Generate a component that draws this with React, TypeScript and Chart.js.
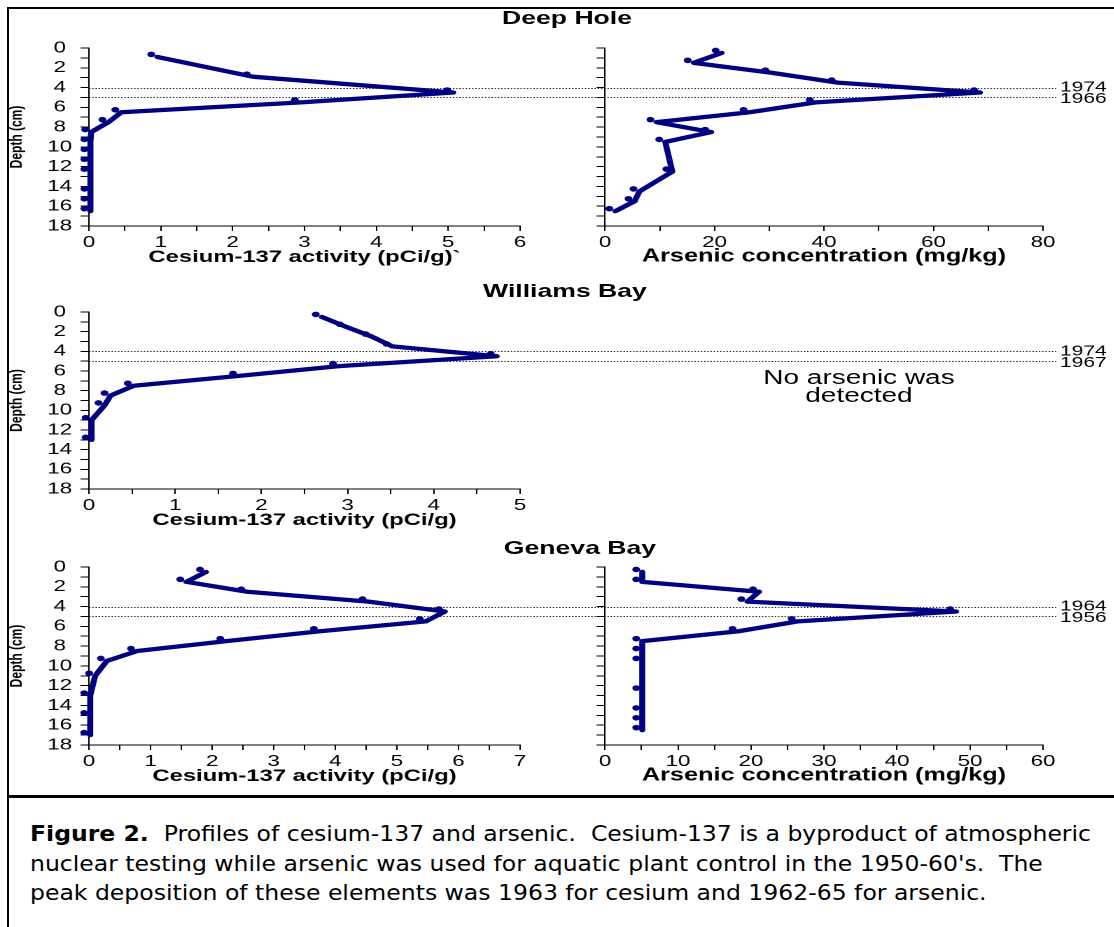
import { useEffect, useRef } from 'react';
import { Chart, registerables } from 'chart.js';

Chart.register(...registerables);

// ---------------- data ----------------
// Deep Hole – cesium-137 (pCi/g) vs depth (cm)
const dhCsDepth = [0.9, 2.9, 4.5, 5.5, 6.5, 7.5, 8.5, 9.5, 10.5, 11.5, 12.5, 14.5, 15.5, 16.5];
const dhCsValue = [0.95, 2.28, 5.07, 2.95, 0.45, 0.27, 0.03, 0.02, 0.02, 0.02, 0.02, 0.02, 0.02, 0.02];
// Deep Hole – arsenic (mg/kg) vs depth (cm)
const dhAsDepth = [0.5, 1.5, 2.5, 3.5, 4.5, 5.5, 6.5, 7.5, 8.5, 9.5, 12.5, 14.5, 15.5, 16.5];
const dhAsValue = [21.3, 16.2, 30.4, 42.5, 68.5, 38.5, 26.4, 9.4, 19.4, 11.0, 12.3, 6.3, 5.4, 1.9];
// Williams Bay – cesium-137
const wbCsDepth = [0.5, 1.5, 2.5, 3.5, 4.5, 5.5, 6.5, 7.5, 8.5, 9.5, 11, 13];
const wbCsValue = [2.7, 2.98, 3.28, 3.52, 4.73, 2.9, 1.74, 0.52, 0.25, 0.18, 0.03, 0.03];
// Geneva Bay – cesium-137
const gbCsDepth = [0.5, 1.5, 2.5, 3.5, 4.5, 5.5, 6.5, 7.5, 8.5, 9.5, 11, 13, 15, 17];
const gbCsValue = [1.9, 1.58, 2.57, 4.54, 5.78, 5.47, 3.75, 2.23, 0.78, 0.29, 0.1, 0.02, 0.02, 0.02];
// Geneva Bay – arsenic
const gbAsDepth = [0.5, 1.5, 2.5, 3.5, 4.5, 5.5, 6.5, 7.5, 8.5, 9.5, 12.5, 14.5, 15.5, 16.5];
const gbAsValue = [5.1, 5.1, 21.1, 19.5, 48.1, 26.4, 18.3, 5.1, 5.1, 5.1, 5.1, 5.1, 5.1, 5.1];

// dated horizons (cm) and their years
const yearDepths = [4, 5];
const dhYears = ['1974', '1966'];
const wbYears = ['1974', '1967'];
const gbYears = ['1964', '1956'];

const rowTitles = ['Deep Hole', 'Williams Bay', 'Geneva Bay'];
const csTitleDH = 'Cesium-137 activity (pCi/g)`';
const csTitle = 'Cesium-137 activity (pCi/g)';
const asTitle = 'Arsenic concentration (mg/kg)';
const depthTitle = 'Depth (cm)';
const noArsenicLines = ['No arsenic was', 'detected'];
const captionBold = 'Figure 2.';
const captionLines = [
  '  Profiles of cesium-137 and arsenic.  Cesium-137 is a byproduct of atmospheric',
  "nuclear testing while arsenic was used for aquatic plant control in the 1950-60's.  The",
  'peak deposition of these elements was 1963 for cesium and 1962-65 for arsenic.',
];

// ---------------- styling / geometry ----------------
const S = 1.4; // horizontal stretch of the original figure
const NAVY = '#000080';
const FONT = "'Liberation Sans', Arial, Helvetica, sans-serif";
const INNER_W = 795;
const L_AREA_R = 520 / S;
const L_AXIS_W = 89 / S;
const R_CANVAS_L = 380;
const R_AREA_L = 605 / S;
const R_AREA_R = 1043 / S;
const PAD_TOP = 40;
const X_AXIS_H = 41.5;
const DASH_END = 1056 / S;
const YEAR_X = 1060 / S;

const rowGeom = [
  { areaTop: 47.7, areaBottom: 225.7, titleX: 567, titleY: 18 },
  { areaTop: 312, areaBottom: 489, titleX: 565, titleY: 291 },
  { areaTop: 567, areaBottom: 745, titleX: 580, titleY: 548 },
];

type Spec = {
  left: number;
  top: number;
  width: number;
  height: number;
  depths: number[];
  values: number[];
  xMax: number;
  xStep: number;
  xLabelEvery: number;
  xTitle: string;
  xTitleSize: number;
  yAxisWidth: number;
  showYLabels: boolean;
  padRight: number;
  padBottom: number;
  years: string[] | null;
};

function makeSpec(
  row: number,
  side: 'L' | 'R',
  depths: number[],
  values: number[],
  xMax: number,
  xStep: number,
  xLabelEvery: number,
  xTitle: string,
  years: string[] | null
): Spec {
  const g = rowGeom[row];
  const areaH = g.areaBottom - g.areaTop;
  const height = Math.round(areaH + PAD_TOP + 44);
  const left = side === 'L' ? 0 : R_CANVAS_L;
  const width = INNER_W - left;
  return {
    left,
    top: g.areaTop - PAD_TOP,
    width,
    height,
    depths,
    values,
    xMax,
    xStep,
    xLabelEvery,
    xTitle,
    xTitleSize: side === 'L' ? 17 : 18,
    yAxisWidth: side === 'L' ? L_AXIS_W : R_AREA_L - R_CANVAS_L,
    showYLabels: side === 'L',
    padRight: side === 'L' ? INNER_W - L_AREA_R : INNER_W - R_AREA_R,
    padBottom: height - areaH - PAD_TOP - X_AXIS_H,
    years,
  };
}

const specs: Spec[] = [
  makeSpec(0, 'L', dhCsDepth, dhCsValue, 6, 0.5, 1, csTitleDH, dhYears),
  makeSpec(0, 'R', dhAsDepth, dhAsValue, 80, 10, 20, asTitle, null),
  makeSpec(1, 'L', wbCsDepth, wbCsValue, 5, 0.5, 1, csTitle, wbYears),
  makeSpec(2, 'L', gbCsDepth, gbCsValue, 7, 0.5, 1, csTitle, gbYears),
  makeSpec(2, 'R', gbAsDepth, gbAsValue, 60, 5, 10, asTitle, null),
];

// ---------------- plugins ----------------
const markerShiftPlugin = {
  id: 'markerShift',
  beforeDatasetDraw(chart: any, args: any) {
    if (args.index === 1) {
      chart.ctx.save();
      chart.ctx.translate(-4.3, -2.5);
    }
  },
  afterDatasetDraw(chart: any, args: any) {
    if (args.index === 1) chart.ctx.restore();
  },
};

const refLinesPlugin = {
  id: 'refLines',
  beforeDatasetsDraw(chart: any, _args: any, opts: any) {
    if (!opts || !opts.labels) return;
    const { ctx, chartArea } = chart;
    const y = chart.scales.y;
    ctx.save();
    ctx.strokeStyle = '#222';
    ctx.lineWidth = 1;
    ctx.setLineDash([1, 1.3]);
    yearDepths.forEach((d: number) => {
      const yy = Math.round(y.getPixelForValue(d)) + 0.5;
      ctx.beginPath();
      ctx.moveTo(chartArea.left, yy);
      ctx.lineTo(opts.right, yy);
      ctx.stroke();
    });
    ctx.setLineDash([]);
    ctx.fillStyle = '#000';
    ctx.font = `15px ${FONT}`;
    ctx.textAlign = 'left';
    ctx.textBaseline = 'middle';
    opts.labels.forEach((t: string, i: number) => {
      ctx.fillText(t, opts.labelX, y.getPixelForValue(yearDepths[i]) + i * 1.5);
    });
    ctx.restore();
  },
};

const isMultiple = (v: number, m: number) => Math.abs(v / m - Math.round(v / m)) < 1e-6;

function ProfileChart({ spec }: { spec: Spec }) {
  const ref = useRef<HTMLCanvasElement | null>(null);
  useEffect(() => {
    const canvas = ref.current;
    if (!canvas) return;
    const pts = spec.depths.map((d, i) => ({ x: spec.values[i], y: d }));
    const chart = new Chart(canvas, {
      type: 'scatter',
      data: {
        datasets: [
          {
            data: pts,
            showLine: true,
            borderColor: NAVY,
            borderWidth: 4.3,
            pointRadius: 0,
            tension: 0,
            clip: false,
            borderCapStyle: 'round',
            borderJoinStyle: 'round',
          } as any,
          {
            data: pts,
            showLine: false,
            pointRadius: 2.8,
            pointBackgroundColor: NAVY,
            pointBorderWidth: 0,
            clip: false,
          } as any,
        ],
      },
      options: {
        animation: false,
        responsive: false,
        devicePixelRatio: 2,
        events: [],
        layout: { padding: { left: 0, top: PAD_TOP, right: spec.padRight, bottom: spec.padBottom } },
        plugins: {
          legend: { display: false },
          tooltip: { enabled: false },
          title: { display: false },
          refLines: spec.years ? { labels: spec.years, right: DASH_END - spec.left, labelX: YEAR_X - spec.left } : false,
        } as any,
        scales: {
          x: {
            type: 'linear',
            position: 'bottom',
            min: 0,
            max: spec.xMax,
            afterFit: (s: any) => {
              s.height = X_AXIS_H;
            },
            ticks: {
              stepSize: spec.xStep,
              autoSkip: false,
              maxRotation: 0,
              padding: 2,
              color: '#000',
              font: { family: FONT, size: 16 },
              callback: (v: any) => (isMultiple(Number(v), spec.xLabelEvery) ? String(Number(v)) : ''),
            },
            grid: { drawOnChartArea: false, drawTicks: true, tickLength: 5, color: '#000', lineWidth: 1 },
            border: { display: true, color: '#000', width: 1 },
            title: {
              display: true,
              text: spec.xTitle,
              color: '#000',
              font: { family: FONT, size: spec.xTitleSize, weight: 'bold' },
              padding: { top: 0, bottom: 0 },
            },
          },
          y: {
            type: 'linear',
            position: 'left',
            min: 0,
            max: 18,
            reverse: true,
            afterFit: (s: any) => {
              s.width = spec.yAxisWidth;
            },
            ticks: {
              stepSize: 1,
              autoSkip: false,
              padding: 6,
              crossAlign: 'center',
              color: '#000',
              font: { family: FONT, size: 16 },
              callback: (v: any) => (spec.showYLabels && isMultiple(Number(v), 2) ? String(Number(v)) : ''),
            },
            grid: { drawOnChartArea: false, drawTicks: true, tickLength: 6, color: '#000', lineWidth: 1 },
            border: { display: true, color: '#000', width: 1 },
            title: {
              display: spec.showYLabels,
              text: depthTitle,
              color: '#000',
              font: { family: FONT, size: 12, weight: 'bold' },
              padding: { top: 5, bottom: 0 },
            },
          },
        },
      } as any,
      plugins: [markerShiftPlugin, refLinesPlugin] as any,
    });
    return () => chart.destroy();
  }, [spec]);
  return (
    <canvas
      ref={ref}
      width={spec.width}
      height={spec.height}
      style={{ position: 'absolute', left: spec.left, top: spec.top }}
    />
  );
}

export default function App() {
  return (
    <div
      style={{
        position: 'absolute',
        left: 0,
        top: 0,
        width: 1114,
        height: 927,
        overflow: 'hidden',
        background: '#fff',
      }}
    >
      {/* stretched figure content */}
      <div
        style={{
          position: 'absolute',
          left: 0,
          top: 0,
          width: INNER_W,
          height: 800,
          transform: `scaleX(${S})`,
          transformOrigin: '0 0',
        }}
      >
        {specs.map((sp, i) => (
          <ProfileChart key={i} spec={sp} />
        ))}
        {rowTitles.map((t, i) => (
          <div
            key={t}
            style={{
              position: 'absolute',
              left: rowGeom[i].titleX / S - 150,
              width: 300,
              top: rowGeom[i].titleY - 12,
              textAlign: 'center',
              fontFamily: FONT,
              fontSize: 19,
              fontWeight: 'bold',
              lineHeight: '24px',
              color: '#000',
            }}
          >
            {t}
          </div>
        ))}
        <div
          style={{
            position: 'absolute',
            left: 859 / S - 150,
            width: 300,
            top: 369,
            textAlign: 'center',
            fontFamily: FONT,
            fontSize: 20,
            lineHeight: '17.5px',
            color: '#000',
          }}
        >
          {noArsenicLines.map((l) => (
            <div key={l}>{l}</div>
          ))}
        </div>
      </div>

      {/* figure frame */}
      <div
        style={{
          position: 'absolute',
          left: 7,
          top: 7,
          width: 1200,
          height: 786,
          borderTop: '2px solid #000',
          borderLeft: '2px solid #000',
          borderBottom: '3px solid #000',
        }}
      />
      <div
        style={{
          position: 'absolute',
          left: 7,
          top: 798,
          width: 0,
          height: 140,
          borderLeft: '2px solid #000',
        }}
      />
      {/* caption */}
      <div
        style={{
          position: 'absolute',
          left: 30,
          top: 820,
          fontFamily: "'DejaVu Sans', Verdana, sans-serif",
          fontSize: 21,
          lineHeight: '29.5px',
          whiteSpace: 'pre',
          color: '#000',
          transform: 'scaleX(1.12)',
          transformOrigin: '0 0',
        }}
      >
        <div>
          <b>{captionBold}</b>
          {captionLines[0]}
        </div>
        <div>{captionLines[1]}</div>
        <div>{captionLines[2]}</div>
      </div>
    </div>
  );
}
